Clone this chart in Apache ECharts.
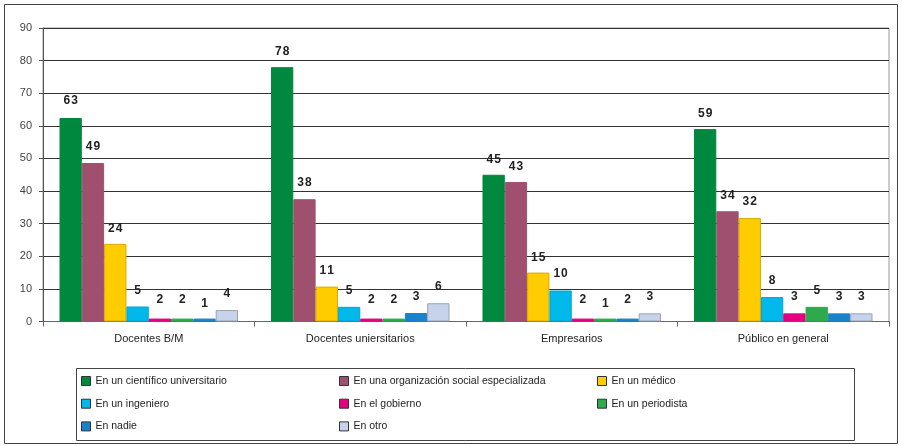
<!DOCTYPE html>
<html>
<head>
<meta charset="utf-8">
<script src="https://cdn.jsdelivr.net/npm/echarts@6/dist/echarts.min.js"></script>
<style>
html,body{margin:0;padding:0;background:#fff;}
#c{width:902px;height:446px;}
</style>
</head>
<body>
<div id="c"></div>
<script>
var categories = ['Docentes B/M', 'Docentes uniersitarios', 'Empresarios', 'Público en general'];
var seriesNames = ['En un científico universitario', 'En una organización social especializada', 'En un médico',
  'En un ingeniero', 'En el gobierno', 'En un periodista', 'En nadie', 'En otro'];
var seriesColors = ['#00883F', '#A0506F', '#FFCC00', '#00B8EA', '#E4007E', '#2DAA4B', '#1A82C8', '#C6D3EA'];
var borderColors = ['#00883F', '#A0506F', '#D9A900', '#00A5D6', '#E4007E', '#2DAA4B', '#1A82C8', '#98A2B8'];

// bar heights as drawn
var cientifico   = [62.4, 78.0, 45.0, 59.0];
var organizacion = [48.6, 37.5, 42.8, 33.8];
var medico       = [23.8, 10.7, 15.0, 31.7];
var ingeniero    = [4.6, 4.5, 9.5, 7.5];
var gobierno     = [0.9, 0.9, 0.9, 2.5];
var periodista   = [0.9, 0.9, 0.9, 4.5];
var nadie        = [0.9, 2.6, 0.9, 2.5];
var otro         = [3.5, 5.6, 2.5, 2.5];

// printed data labels
var cientificoLbl   = [63, 78, 45, 59];
var organizacionLbl = [49, 38, 43, 34];
var medicoLbl       = [24, 11, 15, 32];
var ingenieroLbl    = [5, 5, 10, 8];
var gobiernoLbl     = [2, 2, 2, 3];
var periodistaLbl   = [2, 2, 1, 5];
var nadieLbl        = [1, 3, 2, 3];
var otroLbl         = [4, 6, 3, 3];

var yTicks = {min: 0, max: 90, interval: 10};

var values = [cientifico, organizacion, medico, ingeniero, gobierno, periodista, nadie, otro];
var labels = [cientificoLbl, organizacionLbl, medicoLbl, ingenieroLbl, gobiernoLbl, periodistaLbl, nadieLbl, otroLbl];

var chart = echarts.init(document.getElementById('c'), null, {renderer: 'canvas'});

function spaced(n) { return String(n).split('').join('\u200A'); }

function buildSeries(pxPerUnit) {
  return values.map(function (arr, si) {
    return {
      name: seriesNames[si],
      type: 'bar',
      barGap: '0%',
      barCategoryGap: '15.6%',
      itemStyle: {color: seriesColors[si], borderColor: borderColors[si], borderWidth: 1},
      emphasis: {disabled: true},
      data: arr.map(function (v, ci) {
        var lv = labels[si][ci];
        var extra = pxPerUnit ? Math.max(0, (lv - v) * pxPerUnit) : 0;
        return {
          value: v,
          label: {
            show: true, position: 'top', distance: 9 + extra,
            formatter: spaced(lv),
            fontFamily: 'Liberation Sans, Arial, sans-serif', fontWeight: 'bold', fontSize: 12, color: '#222'
          }
        };
      })
    };
  });
}

var legendFont = {fontFamily: 'Liberation Sans Narrow, Liberation Sans, Arial, sans-serif', fontSize: 10.5, color: '#222', lineHeight: 12};
function mkLegend(left, items) {
  return {
    orient: 'vertical', left: left, top: 375, padding: 0, itemGap: 10.7,
    itemWidth: 9, itemHeight: 9, icon: 'rect', selectedMode: false,
    itemStyle: {borderColor: '#333', borderWidth: 1},
    textStyle: legendFont, data: items
  };
}

var option = {
  animation: false,
  backgroundColor: '#fff',
  grid: {left: 43, right: 13, top: 28, bottom: 124.5, show: true, borderColor: '#999', borderWidth: 1, outerBoundsMode: 'none', containLabel: false},
  xAxis: {
    type: 'category', data: categories,
    axisLine: {lineStyle: {color: '#666'}},
    axisTick: {show: true, length: 5, lineStyle: {color: '#666'}},
    axisLabel: {margin: 12, fontFamily: 'Liberation Sans, Arial, sans-serif', fontSize: 11, color: '#222'}
  },
  yAxis: {
    type: 'value', min: yTicks.min, max: yTicks.max, interval: yTicks.interval,
    axisLine: {show: true, lineStyle: {color: '#555'}},
    axisTick: {show: true, length: 4, lineStyle: {color: '#555'}},
    axisLabel: {margin: 11, fontFamily: 'Liberation Sans, Arial, sans-serif', fontSize: 11, color: '#444'},
    splitLine: {show: true, lineStyle: {color: '#333', width: 1}}
  },
  legend: [
    mkLegend(81, [seriesNames[0], seriesNames[3], seriesNames[6]]),
    mkLegend(339, [seriesNames[1], seriesNames[4], seriesNames[7]]),
    mkLegend(597, [seriesNames[2], seriesNames[5]])
  ],
  graphic: [
    {type: 'rect', shape: {x: 4.5, y: 4.5, width: 893, height: 439}, style: {fill: 'none', stroke: '#444', lineWidth: 1}, silent: true, z: -1},
    {type: 'rect', shape: {x: 76.5, y: 368.5, width: 778, height: 72}, style: {fill: 'none', stroke: '#444', lineWidth: 1}, silent: true, z: -1}
  ],
  series: buildSeries(0)
};
chart.setOption(option);
var p0 = chart.convertToPixel({yAxisIndex: 0}, 0);
var p1 = chart.convertToPixel({yAxisIndex: 0}, 1);
chart.setOption({series: buildSeries(Math.abs(p0 - p1))});
</script>
</body>
</html>
